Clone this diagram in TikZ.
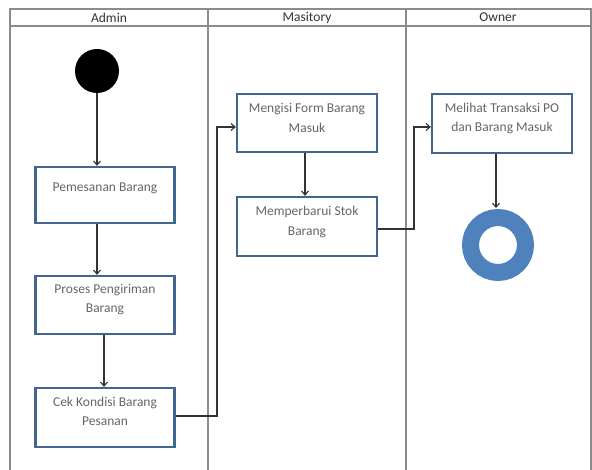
\documentclass[tikz,border=0pt]{standalone}
\usepackage{fontspec}
\setmainfont{Carlito}
\usetikzlibrary{arrows.meta}
\definecolor{boxblue}{HTML}{41668F}
\definecolor{endblue}{HTML}{4F81BD}
\definecolor{txtgray}{HTML}{666666}
\definecolor{lanegray}{HTML}{8C8C8C}
\begin{document}
\begin{tikzpicture}[x=1pt,y=-1pt,
  lane/.style={draw=lanegray,line width=1.1pt},
  actbox/.style={draw=boxblue,line width=2.3pt,fill=white,inner sep=0pt},
  acttext/.style={text=txtgray,font=\fontsize{13.5}{19.5}\selectfont,align=center,inner sep=0pt},
  headtext/.style={text=black!80,font=\fontsize{13.5}{15}\selectfont,inner sep=0pt},
  flow/.style={draw=black!80,line width=1.1pt,-{Straight Barb[length=4pt,width=7pt]}}
]
\useasboundingbox (0,0) rectangle (592,470);
% swimlanes
\draw[lane] (10,470) -- (10,9) -- (591,9) -- (591,470);
\draw[lane] (10,26) -- (591,26);
\draw[lane] (208,9) -- (208,470);
\draw[lane] (406,9) -- (406,470);
\node[headtext] (hA) at (109,17.5) {Admin};
\node[headtext] (hM) at (307,17.5) {Masitory};
\node[headtext] (hO) at (498,17.5) {Owner};
% start
\node[circle,fill=black,minimum size=44pt,inner sep=0pt] (start) at (97,71) {};
% admin boxes
\node[actbox,minimum width=139pt,minimum height=56pt] (b1) at (105,195) {};
\node[acttext] (t1) at (105,188) {Pemesanan Barang};
\node[actbox,minimum width=139pt,minimum height=58pt] (b2) at (105,305) {};
\node[acttext] (t2) at (105,299.5) {Proses Pengiriman\\Barang};
\node[actbox,minimum width=139pt,minimum height=59pt] (b3) at (105,417.5) {};
\node[acttext] (t3) at (105,411.5) {Cek Kondisi Barang\\Pesanan};
% masitory boxes
\node[actbox,minimum width=140pt,minimum height=58pt] (b4) at (307,123) {};
\node[acttext] (t4) at (307,118) {Mengisi Form Barang\\Masuk};
\node[actbox,minimum width=140pt,minimum height=59pt] (b5) at (307,226.5) {};
\node[acttext] (t5) at (307,222) {Memperbarui Stok\\Barang};
% owner
\node[actbox,minimum width=140pt,minimum height=59pt] (b6) at (502,123.5) {};
\node[acttext] (t6) at (502,118.5) {Melihat Transaksi PO\\dan Barang Masuk};
\node[circle,draw=endblue,line width=17pt,minimum size=55pt,inner sep=0pt] (end) at (498,245) {};
% connectors
\draw[flow] (start.south) -- (b1.north -| start.south);
\draw[flow] (b1.south -| 97,0) -- (b2.north -| 97,0);
\draw[flow] (b2.south -| 104,0) -- (b3.north -| 104,0);
\coordinate (c1) at (217,416);
\coordinate (c2) at (217,127);
\draw[flow] (b3.east |- c1) -- (c1) -- (c2) -- (b4.west |- c2);
\draw[flow] (b4.south -| 305,0) -- (b5.north -| 305,0);
\coordinate (c3) at (414,229);
\coordinate (c4) at (414,127);
\draw[flow] (b5.east |- c3) -- (c3) -- (c4) -- (b6.west |- c4);
\draw[flow] (b6.south -| 496,0) -- (496,208);
\end{tikzpicture}
\end{document}
